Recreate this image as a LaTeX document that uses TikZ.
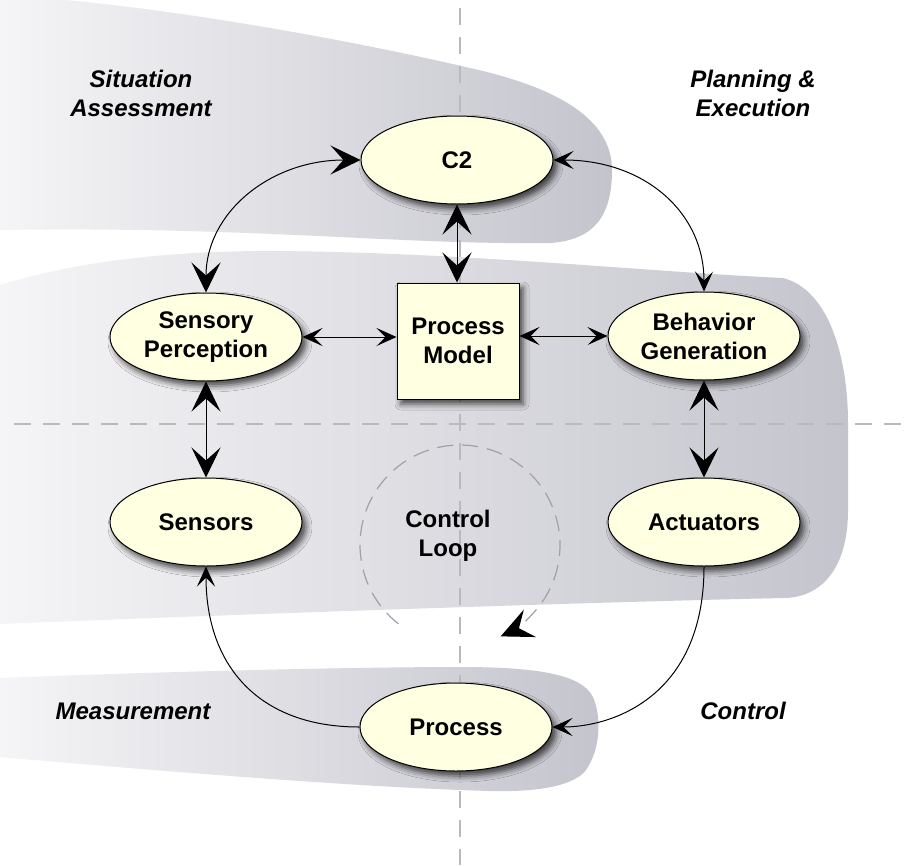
\documentclass[tikz,border=0pt]{standalone}
\usepackage{fontspec}
\setmainfont{Liberation Sans}
\usetikzlibrary{arrows.meta,shapes.geometric,shadows.blur}
\definecolor{nodefill}{RGB}{255,255,226}
\definecolor{bandL}{RGB}{245,245,247}
\definecolor{bandR}{RGB}{196,196,205}
\definecolor{guide}{RGB}{185,185,190}
\definecolor{loopgray}{RGB}{160,160,166}
\tikzset{
  bigtip/.tip={Stealth[length=30pt,width=29pt,inset=13pt]},
  smalltip/.tip={Stealth[length=20pt,width=18pt,inset=9pt]},
  looptip/.tip={Stealth[length=32pt,width=30pt,inset=12pt,color=black]},
}
\begin{document}
\begin{tikzpicture}[x=1pt,y=-1pt,
  txt/.style={font=\fontsize{24}{29}\selectfont\bfseries, text=black, align=center, inner sep=0pt},
  lbl/.style={font=\fontsize{24}{29}\selectfont\bfseries\itshape, text=black, align=center, inner sep=0pt},
  nshadow/.style={blur shadow={shadow xshift=4pt, shadow yshift=-5pt, shadow blur radius=6pt, shadow opacity=70}},
  ell/.style={txt, ellipse, draw=black, line width=1pt, fill=nodefill, minimum width=192pt, minimum height=88pt, nshadow},
  boxn/.style={txt, rectangle, draw=black, line width=1pt, fill=nodefill, minimum width=122pt, minimum height=116pt, nshadow},
  conn/.style={draw=black, line width=1pt},
  guideline/.style={draw=guide, line width=1.5pt, dash pattern=on 17pt off 12pt},
  loopline/.style={draw=loopgray, line width=1.2pt, dash pattern=on 16pt off 9pt},
  band/.style={left color=bandL, right color=bandR, draw=none},
]
\useasboundingbox (0,0) rectangle (912,865);
\fill[white] (0,0) rectangle (912,865);
\clip (0,0) rectangle (912,865);

% shaded bands
\path[band] (0,-5) .. controls (150,3) and (350,40) .. (470,68)
  .. controls (560,88) and (612,120) .. (612,170)
  .. controls (612,215) and (595,240) .. (550,243)
  .. controls (400,245) and (250,226) .. (0,230) -- cycle;
\path[band] (0,285) .. controls (70,264) and (150,252) .. (260,251)
  .. controls (450,251) and (650,272) .. (783,278)
  .. controls (830,290) and (848,360) .. (848,423) -- (848,510)
  .. controls (848,570) and (820,598) .. (783,598)
  .. controls (600,602) and (300,612) .. (0,624) -- cycle;
\path[band] (0,678) .. controls (150,672) and (350,667) .. (460,667)
  .. controls (540,667) and (582,675) .. (593,697)
  .. controls (602,718) and (600,750) .. (586,770)
  .. controls (572,788) and (530,792) .. (490,791)
  .. controls (350,787) and (150,770) .. (0,757) -- cycle;

% guide lines
\draw[guideline] (460,8) -- (460,865);
\draw[guideline] (14,424) -- (912,424);

% control loop
\draw[loopline, -looptip]
  (460,545) ++(128:100) arc[start angle=128, end angle=426, radius=100];
\node[txt] (cloop) at (448,536) {Control\\Loop};

% labels
\node[lbl] (sa) at (141,93) {Situation\\Assessment};
\node[lbl] (pe) at (753,93) {Planning \&\\Execution};
\node[lbl] (meas) at (133,711) {Measurement};
\node[lbl] (ctrl) at (743,711) {Control};

% nodes
\node[ell] (c2) at (457,160) {C2};
\node[ell] (sp) at (206,337) {Sensory\\Perception};
\node[boxn] (pm) at (458,341) {Process\\Model};
\node[ell] (bg) at (704,336) {Behavior\\Generation};
\node[ell] (sens) at (206,522) {Sensors};
\node[ell] (act) at (704,522) {Actuators};
\node[ell] (proc) at (456,727) {Process};

% connectors
\draw[conn, bigtip-bigtip] (c2.south) -- (c2.south |- pm.north);
\draw[conn, bigtip-bigtip] (sp.south) -- (sens.north);
\draw[conn, bigtip-bigtip] (bg.south) -- (act.north);
\draw[conn, smalltip-smalltip] (sp.east) -- (sp.east -| pm.west);
\draw[conn, smalltip-smalltip] (bg.west -| pm.east) -- (bg.west);
\draw[conn, bigtip-bigtip] (sp.north) .. controls +(0,-80) and +(-90,0) .. (c2.west);
\draw[conn, smalltip-smalltip] (c2.east) .. controls +(90,0) and +(0,-80) .. (bg.north);
\draw[conn, -smalltip] (act.south) .. controls +(0,130) and +(60,0) .. (proc.east);
\draw[conn, -smalltip] (proc.west) .. controls +(-100,0) and +(0,100) .. (sens.south);
\end{tikzpicture}
\end{document}
